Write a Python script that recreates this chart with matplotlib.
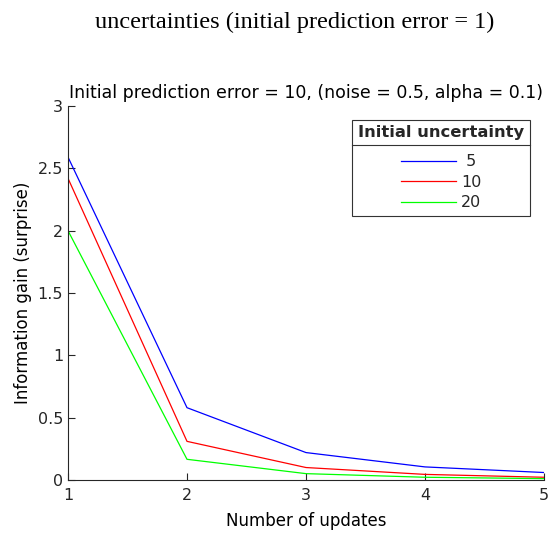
import matplotlib
matplotlib.use('Agg')
import matplotlib.pyplot as plt
from matplotlib.lines import Line2D

plt.rcParams['font.family'] = ['DejaVu Sans']
plt.rcParams['text.color'] = '#262626'

updates = [1, 2, 3, 4, 5]
uncertainties = ['5', '10', '20']
gain_5 = [2.59, 0.58, 0.22, 0.105, 0.06]
gain_10 = [2.42, 0.31, 0.10, 0.045, 0.022]
gain_20 = [2.00, 0.166, 0.051, 0.022, 0.011]
colors = ['#0000ff', '#ff0000', '#00ff00']

fig = plt.figure(figsize=(5.52, 5.33), dpi=100)
ax = fig.add_axes([68 / 552, 53 / 533, 476 / 552, 374 / 533])

for vals, lab, c in zip([gain_5, gain_10, gain_20], uncertainties, colors):
    ax.plot(updates, vals, color=c, lw=0.9, label=(' ' + lab if len(lab) == 1 else lab))

ax.set_xlim(1, 5)
ax.set_ylim(0, 3)
ax.set_xticks(updates)
ax.set_yticks([0, 0.5, 1, 1.5, 2, 2.5, 3])
ax.set_yticklabels(['0', '0.5', '1', '1.5', '2', '2.5', '3'])
ax.spines['top'].set_visible(False)
ax.spines['right'].set_visible(False)
for s in ('left', 'bottom'):
    ax.spines[s].set_color('#262626')
ax.tick_params(direction='in', length=5, labelsize=11.5, width=0.8,
               color='#262626', labelcolor='#262626')
ax.tick_params(axis='x', pad=6)
ax.set_xlabel('Number of updates', fontsize=12, labelpad=6)
ax.set_ylabel('Information gain (surprise)', fontsize=12)
ax.set_title('Initial prediction error = 10, (noise = 0.5, alpha = 0.1)', fontsize=12.5,
             pad=6, color='black')

leg = ax.legend(title='Initial uncertainty', loc='upper right', bbox_to_anchor=(0.97, 0.963),
                fontsize=11.5, title_fontproperties={'weight': 'bold', 'size': 11.8},
                fancybox=False, edgecolor='#333333', framealpha=1, handlelength=3.5,
                borderpad=0.35, labelspacing=0.35, handletextpad=0.3, borderaxespad=0)
leg.get_frame().set_linewidth(0.8)
leg._legend_box.sep = 10

fig.suptitle('uncertainties (initial prediction error = 1)', fontsize=17.5,
             family='Liberation Serif', x=0.534, y=0.978, color='black')

fig.canvas.draw()
fb = leg.get_window_extent()
tb = leg.get_title().get_window_extent()
yline = tb.y0 - 5
fig.add_artist(Line2D([fb.x0 / fig.bbox.width, fb.x1 / fig.bbox.width],
                      [yline / fig.bbox.height, yline / fig.bbox.height],
                      color='#333333', lw=0.8, transform=fig.transFigure))

fig.savefig('out.png', dpi=100)
